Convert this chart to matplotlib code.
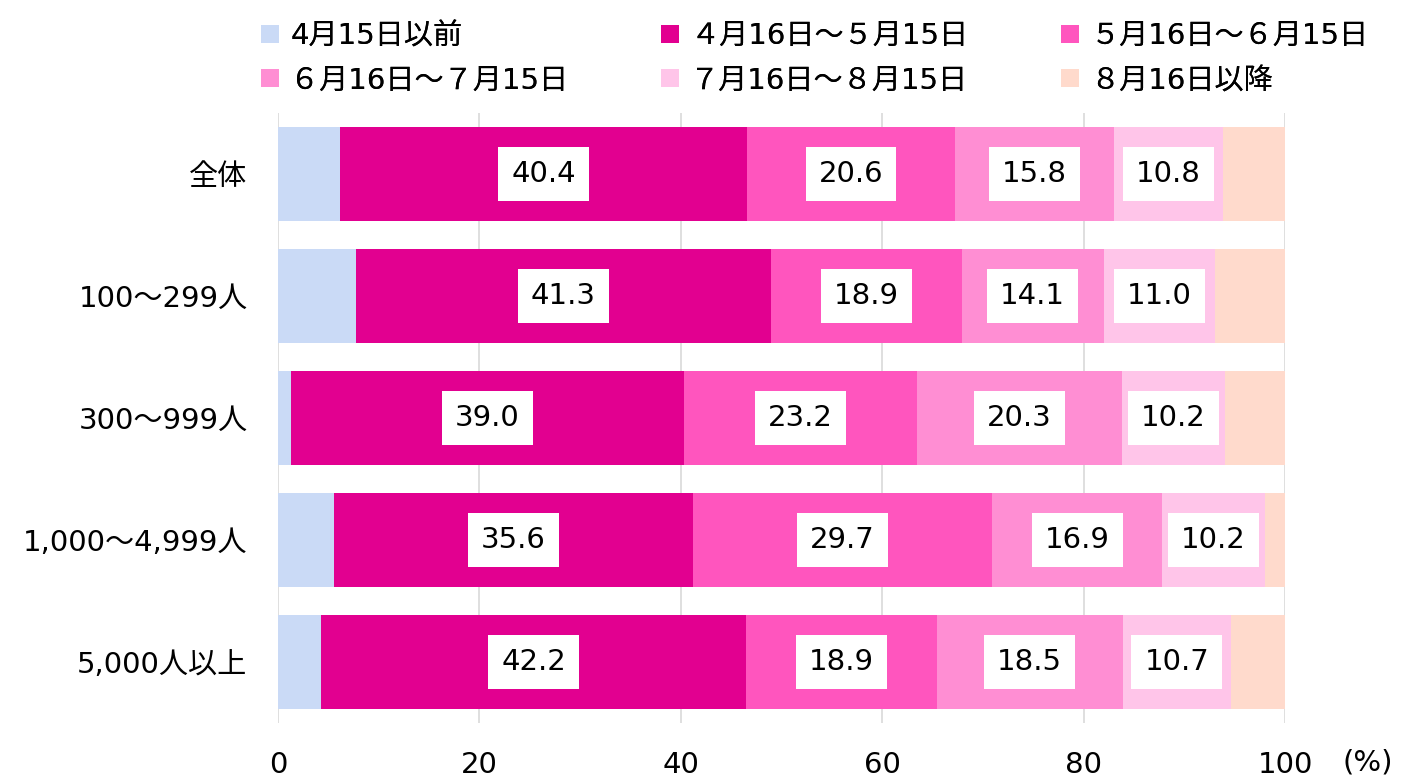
import matplotlib
matplotlib.use("Agg")
import matplotlib.pyplot as plt
import numpy as np

plt.rcParams['font.family'] = ['DejaVu Sans', 'Noto Sans CJK JP']

categories = ['全体', '100～299人', '300～999人', '1,000～4,999人', '5,000人以上']
series_names = ['4月15日以前', '４月16日～５月15日', '５月16日～６月15日',
                '６月16日～７月15日', '７月16日～８月15日', '８月16日以降']
before_0415 = [6.2, 7.7, 1.3, 5.6, 4.3]
apr16_may15 = [40.4, 41.3, 39.0, 35.6, 42.2]
may16_jun15 = [20.6, 18.9, 23.2, 29.7, 18.9]
jun16_jul15 = [15.8, 14.1, 20.3, 16.9, 18.5]
jul16_aug15 = [10.8, 11.0, 10.2, 10.2, 10.7]
after_0816 = [6.2, 7.0, 6.0, 2.0, 5.4]
series = [before_0415, apr16_may15, may16_jun15, jun16_jul15, jul16_aug15, after_0816]
labelled = [False, True, True, True, True, False]
colors = ['#CADAF6', '#E20090', '#FF55BE', '#FF8ED3', '#FFC5E9', '#FFDACC']

fig = plt.figure(figsize=(14.07, 7.8), dpi=100)
ax = fig.add_axes([0.1976, 0.0731, 0.7157, 0.782])

y = np.arange(len(categories))
left = np.zeros(len(categories))
handles = []
for vals, name, col, lab in zip(series, series_names, colors, labelled):
    vals = np.array(vals)
    bars = ax.barh(y, vals, left=left, height=0.77, color=col, label=name, zorder=2)
    handles.append(bars)
    if lab:
        for yi, l, v in zip(y, left, vals):
            ax.text(l + v / 2, yi, f'{v:.1f}', ha='center', va='center', fontsize=21,
                    zorder=3,
                    bbox=dict(boxstyle='square,pad=0.45', fc='white', ec='none'))
    left = left + vals

ax.set_xlim(0, 100)
ax.set_ylim(len(categories) - 0.5, -0.5)
ax.set_yticks(y)
ax.set_yticklabels(categories, fontsize=21)
ax.set_xticks([0, 20, 40, 60, 80, 100])
ax.tick_params(axis='x', labelsize=21, length=0, pad=20)
ax.tick_params(axis='y', length=0, pad=22)
ax.grid(axis='x', color='#D9D9D9', linewidth=1.2, zorder=0)
for s in ax.spines.values():
    s.set_visible(False)
fig.text(0.99, 0.005, '(%)', ha='right', va='bottom', fontsize=21)

# legend: 3 equal-width columns, two rows, read row by row
for c in range(3):
    idx = [c, c + 3]
    leg = fig.legend(handles=[handles[i] for i in idx], labels=[series_names[i] for i in idx],
                     loc='upper left', bbox_to_anchor=(0.167 + c * 0.2843, 1.005),
                     frameon=False, fontsize=21, handlelength=0.6, handleheight=0.6,
                     handletextpad=0.4, labelspacing=0.55)
    fig.add_artist(leg)

fig.savefig('out.png', dpi=100)
